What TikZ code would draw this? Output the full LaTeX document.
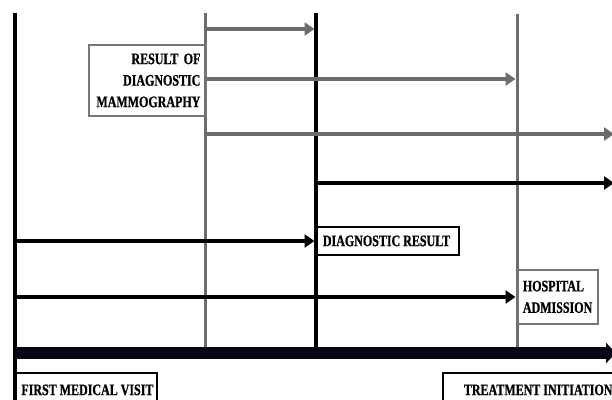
\documentclass[tikz,border=0pt]{standalone}
\usepackage{fontspec}
\newfontfamily\labfont{Liberation Serif}[FakeStretch=0.75, FakeBold=0.8]
\usetikzlibrary{arrows.meta}
\definecolor{lg}{RGB}{108,108,108}
\definecolor{bx}{RGB}{118,118,118}
\definecolor{navy}{RGB}{6,6,22}
\tikzset{
  vblack/.style={line width=3.2pt, black},
  vgray/.style={line width=3pt, lg},
  garrow/.style={line width=4.5pt, lg, -{Triangle[length=10pt,width=13pt]}},
  barrow/.style={line width=4.5pt, black, -{Triangle[length=10pt,width=13pt]}},
  bigarrow/.style={line width=12pt, navy, -{Triangle[length=10pt,width=20pt]}},
  lab/.style={font=\labfont\bfseries\fontsize{16}{21.5}\selectfont, inner ysep=0pt},
  gbox/.style={lab, draw=bx, line width=1.8pt},
  bbox/.style={lab, draw=black, line width=1.8pt},
}
\begin{document}
\begin{tikzpicture}[x=1pt,y=-1pt]
\useasboundingbox (0,0) rectangle (612,399);
\clip (0,0) rectangle (612,399);
% vertical lines
\coordinate (v1t) at (15,13);  \coordinate (v1b) at (15,410);
\coordinate (v2t) at (205,13); \coordinate (v2b) at (205,347);
\coordinate (v3t) at (316,13); \coordinate (v3b) at (316,347);
\coordinate (v4t) at (517,14); \coordinate (v4b) at (517,347);
\draw[vblack] (v1t) -- (v1b);
\draw[vgray] (v2t) -- (v2b);
\draw[vblack] (v3t) -- (v3b);
\draw[vgray] (v4t) -- (v4b);
% arrow end points
\coordinate (a1s) at (205,29);  \coordinate (a1e) at (316,29);
\coordinate (a2s) at (205,79);  \coordinate (a2e) at (517,79);
\coordinate (a3s) at (205,134); \coordinate (a3e) at (614,134);
\coordinate (a4s) at (316,183); \coordinate (a4e) at (614,183);
\coordinate (a5s) at (15,241);  \coordinate (a5e) at (316,241);
\coordinate (a6s) at (15,297);  \coordinate (a6e) at (517,297);
\coordinate (a7s) at (15,353);  \coordinate (a7e) at (616,353);
\draw[garrow, shorten >=1.5pt] (a1s) -- (a1e);
\draw[garrow, shorten >=1.5pt] (a2s) -- (a2e);
\draw[garrow] (a3s) -- (a3e);
\draw[barrow] (a4s) -- (a4e);
\draw[barrow, shorten >=1.5pt] (a5s) -- (a5e);
\draw[barrow, shorten >=1.5pt] (a6s) -- (a6e);
\draw[bigarrow] (a7s) -- (a7e);
% boxes
\node[gbox, anchor=north west, minimum width=117pt, minimum height=71pt,
      text width=106pt, inner xsep=5.5pt, align=right] (mam) at (88,44)
      {\mbox{RESULT OF}\\DIAGNOSTIC\\MAMMOGRAPHY};
\node[bbox, anchor=north west, minimum width=142pt, minimum height=28pt,
      inner xsep=6pt] (dr) at (316,226)
      {\makebox[130pt][l]{DIAGNOSTIC RESULT}};
\node[gbox, anchor=north west, minimum width=80pt, minimum height=54pt,
      text width=70pt, inner xsep=5pt, align=left] (ha) at (517,269)
      {HOSPITAL\\ADMISSION};
\node[bbox, anchor=north west, minimum width=141pt, minimum height=34pt,
      inner xsep=5.5pt] (fmv) at (15,372)
      {\makebox[130pt][l]{FIRST MEDICAL VISIT}};
\node[bbox, anchor=north west, minimum width=192pt, minimum height=34pt,
      inner xsep=21pt] (ti) at (442,372)
      {\makebox[160pt][l]{TREATMENT INITIATION}};
\end{tikzpicture}
\end{document}
